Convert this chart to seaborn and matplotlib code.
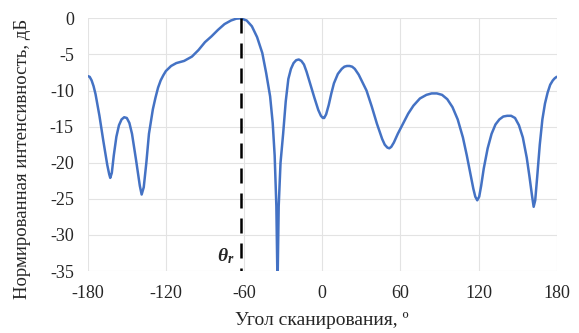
import pandas as pd
import matplotlib.pyplot as plt
import seaborn as sns

# scan angle (deg) and normalized intensity (dB)
angle = [-180, -178.5, -177, -175.5, -174, -171, -168, -165, -163.5, -162.7,
         -161.5, -160, -158, -156, -154, -152, -150, -148, -146, -143,
         -140, -138.6, -137, -135, -133, -130, -128, -126, -124, -122,
         -120, -116, -112, -106, -100, -95, -90, -85, -80, -75,
         -70, -66, -62.5, -58, -54, -50, -46, -43, -40, -38,
         -36.5, -35.2, -34.3, -33.4, -32, -30, -28, -26, -24, -22,
         -20, -18, -16, -14, -12, -9, -6, -3, -1, 0.5,
         1.5, 3, 5, 7, 9, 12, 15, 17, 19, 21,
         23, 25, 28, 31, 34, 38, 42, 46, 48, 50,
         51.5, 53, 55, 58, 62, 66, 70, 75, 80, 84,
         88, 92, 96, 100, 104, 108, 111, 114, 116, 117.5,
         119, 120.5, 122, 124, 127, 130, 133, 136, 139, 142,
         145, 148, 151, 154, 157, 159, 161, 162.3, 163.5, 165,
         167, 169, 171, 173, 175, 177, 178.5, 180]
intensity = [-8.0, -8.1, -8.6, -9.4, -10.5, -13.5, -17.0, -20.3, -21.6, -22.1,
             -21.4, -19.0, -16.4, -14.8, -14.0, -13.7, -13.8, -14.5, -16.0, -19.5,
             -23.2, -24.4, -23.4, -20.0, -16.0, -12.6, -11.0, -9.6, -8.6, -7.9,
             -7.3, -6.6, -6.2, -5.9, -5.3, -4.4, -3.3, -2.5, -1.6, -0.8,
             -0.3, -0.05, 0.0, -0.3, -1.1, -2.6, -4.8, -7.6, -10.8, -14.5,
             -19.0, -26.0, -37.0, -26.0, -20.0, -16.0, -11.5, -8.4, -7.0, -6.2,
             -5.8, -5.7, -5.9, -6.4, -7.4, -9.2, -11.0, -12.7, -13.5, -13.8,
             -13.8, -13.3, -12.0, -10.4, -9.0, -7.7, -7.0, -6.7, -6.6, -6.6,
             -6.7, -7.0, -7.8, -8.9, -10.0, -12.2, -14.6, -16.7, -17.5, -17.9,
             -18.0, -17.8, -17.2, -16.0, -14.6, -13.2, -12.1, -11.1, -10.6, -10.4,
             -10.4, -10.6, -11.2, -12.3, -14.0, -16.5, -19.0, -21.8, -23.6, -24.7,
             -25.2, -24.7, -23.2, -20.8, -18.0, -16.0, -14.7, -14.0, -13.6, -13.5,
             -13.5, -13.8, -14.8, -16.5, -19.3, -21.8, -24.5, -26.1, -25.2, -22.0,
             -17.5, -14.0, -11.8, -10.3, -9.2, -8.6, -8.3, -8.1]
theta_r = -62.5
x_ticks = [-180, -120, -60, 0, 60, 120, 180]
y_ticks = [0, -5, -10, -15, -20, -25, -30, -35]

df = pd.DataFrame({"angle": angle, "dB": intensity})

sns.set_theme(style="white")
plt.rcParams["font.family"] = ["Liberation Serif", "DejaVu Serif"]
plt.rcParams["axes.unicode_minus"] = False
plt.rcParams["mathtext.fontset"] = "custom"
plt.rcParams["mathtext.it"] = "Liberation Serif:italic:bold"
plt.rcParams["mathtext.rm"] = "Liberation Serif:bold"

fig = plt.figure(figsize=(5.79, 3.33), dpi=100)
ax = fig.add_axes([0.1515, 0.186, 0.81, 0.759])

sns.lineplot(data=df, x="angle", y="dB", color="#4472C4", linewidth=1.8,
             estimator=None, sort=False, ax=ax, zorder=3)
ax.plot([theta_r, theta_r], [0, -35], color="black", linewidth=1.8,
        dashes=(6, 4), zorder=4)
ax.text(theta_r - 5, -33.0, r"$\theta_r$", ha="right", va="center", fontsize=14)

ax.set_xlim(-180, 180)
ax.set_ylim(-35, 0)
ax.set_xticks(x_ticks)
ax.set_yticks(y_ticks)
ax.tick_params(labelsize=13, length=0, pad=10)
ax.grid(True, color="#e3e3e3", linewidth=0.8)
for s in ax.spines.values():
    s.set_visible(False)
ax.set_xlabel("Угол сканирования, º", fontsize=14, labelpad=7)
ax.set_ylabel("Нормированная интенсивность, дБ", fontsize=13.5)
ax.yaxis.set_label_coords(-0.121, 0.445)

fig.savefig("out.png", dpi=100)
